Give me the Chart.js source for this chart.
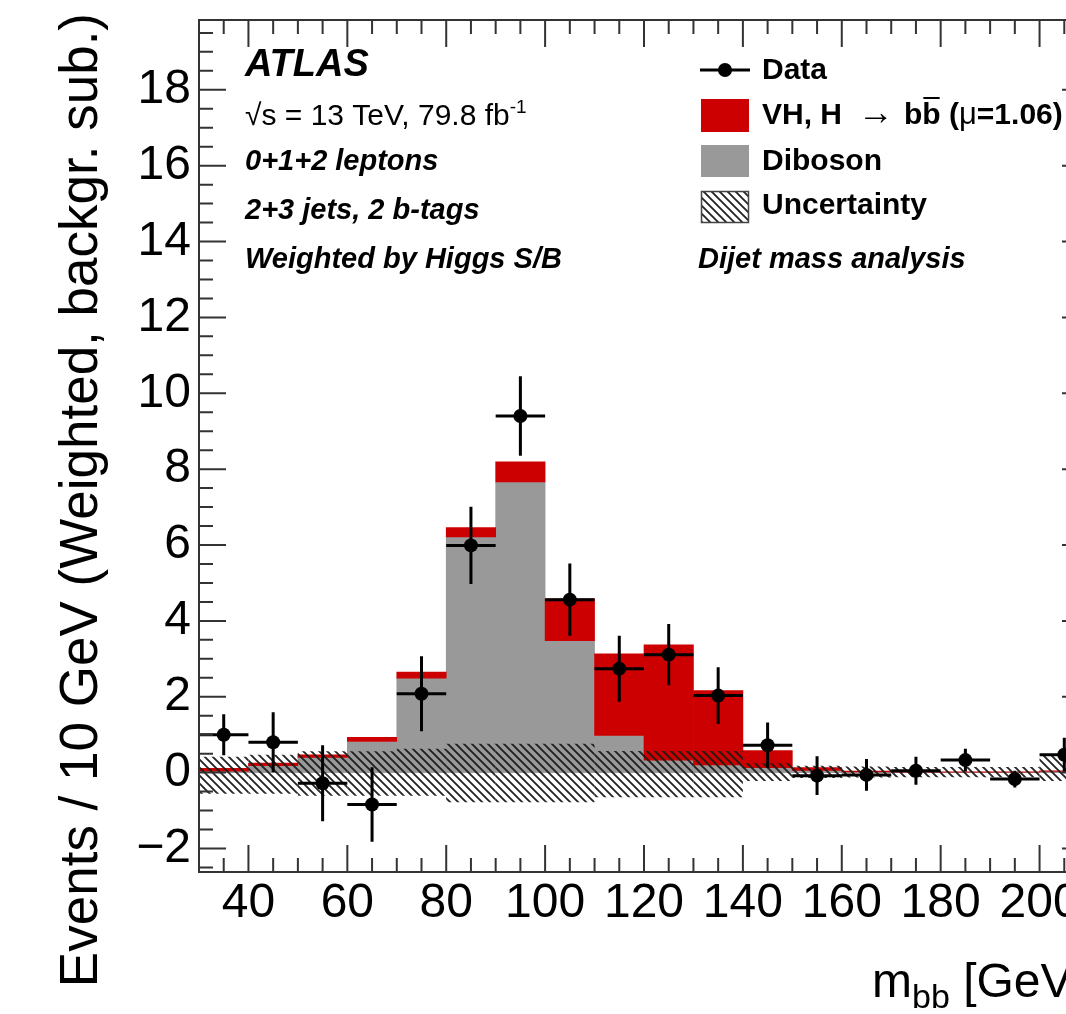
<!DOCTYPE html>
<html>
<head>
<meta charset="utf-8">
<script src="https://cdn.jsdelivr.net/npm/chart.js@4.4.0/dist/chart.umd.min.js"></script>
<style>
html,body{margin:0;padding:0;background:#fff;overflow:hidden;width:1066px;height:1014px;}
#wrap{position:relative;width:1180px;height:1014px;}
canvas{display:block;}
</style>
</head>
<body>
<div id="wrap"><canvas id="c" width="1180" height="1014"></canvas></div>
<script>
// ---- data ----
const binCenters    = [35, 45, 55, 65, 75, 85, 95, 105, 115, 125, 135, 145, 155, 165, 175, 185, 195, 205];
const dataValues    = [1.00, 0.80, -0.28, -0.84, 2.08, 5.99, 9.40, 4.56, 2.74, 3.11, 2.03, 0.72, -0.08, -0.06, 0.05, 0.33, -0.17, 0.47];
const dataErrors    = [0.54, 0.79, 1.00, 0.98, 0.99, 1.02, 1.05, 0.95, 0.87, 0.81, 0.75, 0.60, 0.51, 0.42, 0.37, 0.30, 0.22, 0.45];
const dibosonValues = [0.04, 0.18, 0.40, 0.82, 2.49, 6.21, 7.66, 3.48, 0.98, 0.33, 0.20, 0.13, 0.06, 0.02, 0.01, 0.01, 0.01, 0.03];
const vhValues      = [0.07, 0.07, 0.07, 0.11, 0.16, 0.25, 0.53, 1.10, 2.15, 3.04, 1.96, 0.45, 0.07, 0.02, 0.02, 0.01, 0.01, 0.02];
const uncHigh       = [0.42, 0.47, 0.56, 0.56, 0.63, 0.76, 0.76, 0.76, 0.57, 0.57, 0.57, 0.25, 0.18, 0.16, 0.15, 0.15, 0.15, 0.49];
const uncLow        = [-0.56, -0.56, -0.61, -0.61, -0.61, -0.78, -0.78, -0.78, -0.65, -0.65, -0.65, -0.22, -0.14, -0.13, -0.12, -0.12, -0.12, -0.22];
const binHalfWidth  = 5;
const xTickValues   = [40, 60, 80, 100, 120, 140, 160, 180, 200];
const yTickValues   = [-2, 0, 2, 4, 6, 8, 10, 12, 14, 16, 18];
const xRange = [30, 210];
const yRange = [-2.62, 19.84];

// ---- styles ----
const FONT = "'Liberation Sans', Arial, Helvetica, sans-serif";
const RED = '#cc0000', GREY = '#999999';

function makeHatch() {
  const s = 8;
  const c = document.createElement('canvas');
  c.width = s; c.height = s;
  const g = c.getContext('2d');
  g.strokeStyle = 'rgba(25,25,25,0.95)';
  g.lineWidth = 1.9;
  g.beginPath();
  for (let k = -1; k <= 1; k++) {
    g.moveTo(k * s - 1, -1);
    g.lineTo(k * s + s + 1, s + 1);
  }
  g.stroke();
  return g.createPattern(c, 'repeat');
}
const hatch = makeHatch();

const dibosonData = binCenters.map((c, i) => ({x: c, y: [0, dibosonValues[i]]}));
const vhData = binCenters.map((c, i) => ({x: c, y: [dibosonValues[i], dibosonValues[i] + vhValues[i]]}));
const uncData = binCenters.map((c, i) => ({x: c, y: [uncLow[i], uncHigh[i]]}));
const pointData = binCenters.map((c, i) => ({x: c, y: dataValues[i]}));

const errorBarPlugin = {
  id: 'errorBars',
  beforeDatasetDraw(chart, args) {
    if (args.index !== 3) return;
    const {ctx, scales: {x, y}} = chart;
    ctx.save();
    ctx.strokeStyle = '#000';
    ctx.lineWidth = 3;
    ctx.beginPath();
    binCenters.forEach((c, i) => {
      const px = x.getPixelForValue(c), py = y.getPixelForValue(dataValues[i]);
      ctx.moveTo(x.getPixelForValue(c - binHalfWidth), py);
      ctx.lineTo(x.getPixelForValue(c + binHalfWidth), py);
      ctx.moveTo(px, y.getPixelForValue(dataValues[i] + dataErrors[i]));
      ctx.lineTo(px, y.getPixelForValue(dataValues[i] - dataErrors[i]));
    });
    ctx.stroke();
    ctx.restore();
  }
};

const frameTicksPlugin = {
  id: 'frameTicks',
  afterDraw(chart) {
    const {ctx, chartArea: a, scales: {x, y}} = chart;
    ctx.save();
    ctx.strokeStyle = '#333';
    ctx.lineWidth = 2;
    ctx.beginPath();
    const MAJ = 27, MIN = 14;
    for (let k = Math.round(xRange[0] / 5) + 1; k * 5 < xRange[1]; k++) {
      const v = k * 5;
      const px = x.getPixelForValue(v);
      const L = xTickValues.includes(v) ? MAJ : MIN;
      ctx.moveTo(px, a.bottom); ctx.lineTo(px, a.bottom - L);
      ctx.moveTo(px, a.top); ctx.lineTo(px, a.top + L);
    }
    for (let k = Math.ceil(yRange[0] * 2); k / 2 < yRange[1]; k++) {
      const v = k / 2;
      const py = y.getPixelForValue(v);
      const L = yTickValues.includes(v) ? MAJ : MIN;
      ctx.moveTo(a.left, py); ctx.lineTo(a.left + L, py);
      ctx.moveTo(a.right, py); ctx.lineTo(a.right - L, py);
    }
    ctx.stroke();
    ctx.strokeRect(a.left, a.top, a.right - a.left, a.bottom - a.top);
    ctx.restore();
  }
};

function runs(ctx, x, y, parts) {
  let cx = x;
  parts.forEach(p => {
    ctx.font = p.font;
    ctx.fillText(p.t, cx, y + (p.dy || 0));
    const w = ctx.measureText(p.t).width;
    if (p.overline) {
      const ow = ctx.measureText(p.overline).width;
      ctx.fillRect(cx + w - ow + 1, y - 27, ow - 2, 2);
    }
    cx += w + (p.gap || 0);
  });
  return cx;
}

const textPlugin = {
  id: 'annotations',
  afterDraw(chart) {
    const ctx = chart.ctx;
    ctx.save();
    ctx.fillStyle = '#000';
    ctx.textAlign = 'left';
    ctx.textBaseline = 'alphabetic';
    const BI = 'italic bold 29px ' + FONT;
    ctx.font = 'italic bold 38px ' + FONT;
    ctx.fillText('ATLAS', 245, 76);
    runs(ctx, 245, 125, [
      {t: '\u221As = 13 TeV, 79.8 fb', font: '30px ' + FONT},
      {t: '-1', font: '19px ' + FONT, dy: -12}
    ]);
    ctx.font = BI;
    ctx.fillText('0+1+2 leptons', 245, 170);
    ctx.fillText('2+3 jets, 2 b-tags', 245, 219);
    ctx.fillText('Weighted by Higgs S/B', 245, 268);
    ctx.fillText('Dijet mass analysis', 698, 268);

    // legend
    const LB = 'bold 30px ' + FONT;
    ctx.strokeStyle = '#000';
    ctx.lineWidth = 3;
    ctx.beginPath(); ctx.moveTo(700, 70); ctx.lineTo(750, 70); ctx.stroke();
    ctx.beginPath(); ctx.arc(725, 70, 7, 0, Math.PI * 2); ctx.fill();
    ctx.font = LB; ctx.fillText('Data', 762, 79);

    ctx.fillStyle = RED; ctx.fillRect(701, 99, 48, 33);
    ctx.fillStyle = '#000';
    runs(ctx, 762, 124, [
      {t: 'VH, H', font: LB, gap: 16},
      {t: '\u2192', font: '36px ' + FONT, gap: 10},
      {t: 'bb', font: LB, overline: 'b', gap: 0},
      {t: ' (', font: LB},
      {t: '\u03BC', font: '31px ' + FONT},
      {t: '=1.06)', font: LB}
    ]);

    ctx.fillStyle = GREY; ctx.fillRect(701, 145, 48, 32);
    ctx.fillStyle = '#000';
    ctx.font = LB; ctx.fillText('Diboson', 762, 170);

    ctx.fillStyle = '#fff'; ctx.fillRect(701, 191, 48, 32);
    ctx.fillStyle = hatch; ctx.fillRect(701, 191, 48, 32);
    ctx.strokeStyle = '#444'; ctx.lineWidth = 1.5; ctx.strokeRect(701.5, 191.5, 47, 31);
    ctx.fillStyle = '#000';
    ctx.font = LB; ctx.fillText('Uncertainty', 762, 214);

    // y-axis title
    ctx.save();
    ctx.translate(97, 13);
    ctx.rotate(-Math.PI / 2);
    ctx.textAlign = 'right';
    ctx.font = '53px ' + FONT;
    ctx.fillText('Events / 10 GeV (Weighted, backgr. sub.)', 0, 0);
    ctx.restore();

    // x-axis title
    runs(ctx, 872, 997, [
      {t: 'm', font: '48px ' + FONT},
      {t: 'bb', font: '34px ' + FONT, dy: 11},
      {t: ' [GeV]', font: '48px ' + FONT}
    ]);
    ctx.restore();
  }
};

Chart.defaults.font.family = FONT;
Chart.defaults.color = '#000';

new Chart(document.getElementById('c'), {
  type: 'bar',
  data: {
    datasets: [
      {label: 'Diboson', data: dibosonData, backgroundColor: GREY, borderWidth: 0, grouped: false, order: 3,
       barPercentage: 1, categoryPercentage: 1},
      {label: 'VH, H \u2192 bb (\u03BC=1.06)', data: vhData, backgroundColor: RED, borderWidth: 0, grouped: false, order: 2,
       barPercentage: 1, categoryPercentage: 1},
      {label: 'Uncertainty', data: uncData, backgroundColor: hatch, borderWidth: 0, grouped: false, order: 1,
       barPercentage: 1, categoryPercentage: 1, inflateAmount: 0},
      {label: 'Data', type: 'scatter', data: pointData, order: 0, pointRadius: 7, pointHoverRadius: 7,
       backgroundColor: '#000', borderColor: '#000', borderWidth: 0, showLine: false}
    ]
  },
  options: {
    responsive: false,
    animation: false,
    devicePixelRatio: 1,
    events: [],
    layout: {padding: {left: 0, top: 20, right: 91, bottom: 0}},
    plugins: {legend: {display: false}, tooltip: {enabled: false}, title: {display: false}},
    scales: {
      x: {
        type: 'linear', min: xRange[0], max: xRange[1], offset: false,
        grid: {display: false, offset: false, drawTicks: false}, border: {display: false},
        ticks: {font: {size: 48}, color: '#000', padding: 3, maxRotation: 0, autoSkip: false},
        afterBuildTicks: s => { s.ticks = xTickValues.map(v => ({value: v})); },
        afterFit: s => { s.height = 142; s.paddingLeft = 0; s.paddingRight = 0; }
      },
      y: {
        type: 'linear', min: yRange[0], max: yRange[1],
        grid: {display: false, drawTicks: false}, border: {display: false},
        ticks: {font: {size: 48}, color: '#000', padding: 8,
                callback: v => (v < 0 ? '\u2212' + Math.abs(v) : String(v))},
        afterBuildTicks: s => { s.ticks = yTickValues.map(v => ({value: v})); },
        afterFit: s => { s.width = 199; s.paddingTop = 0; s.paddingBottom = 0; }
      }
    }
  },
  plugins: [errorBarPlugin, frameTicksPlugin, textPlugin]
});
</script>
</body>
</html>
